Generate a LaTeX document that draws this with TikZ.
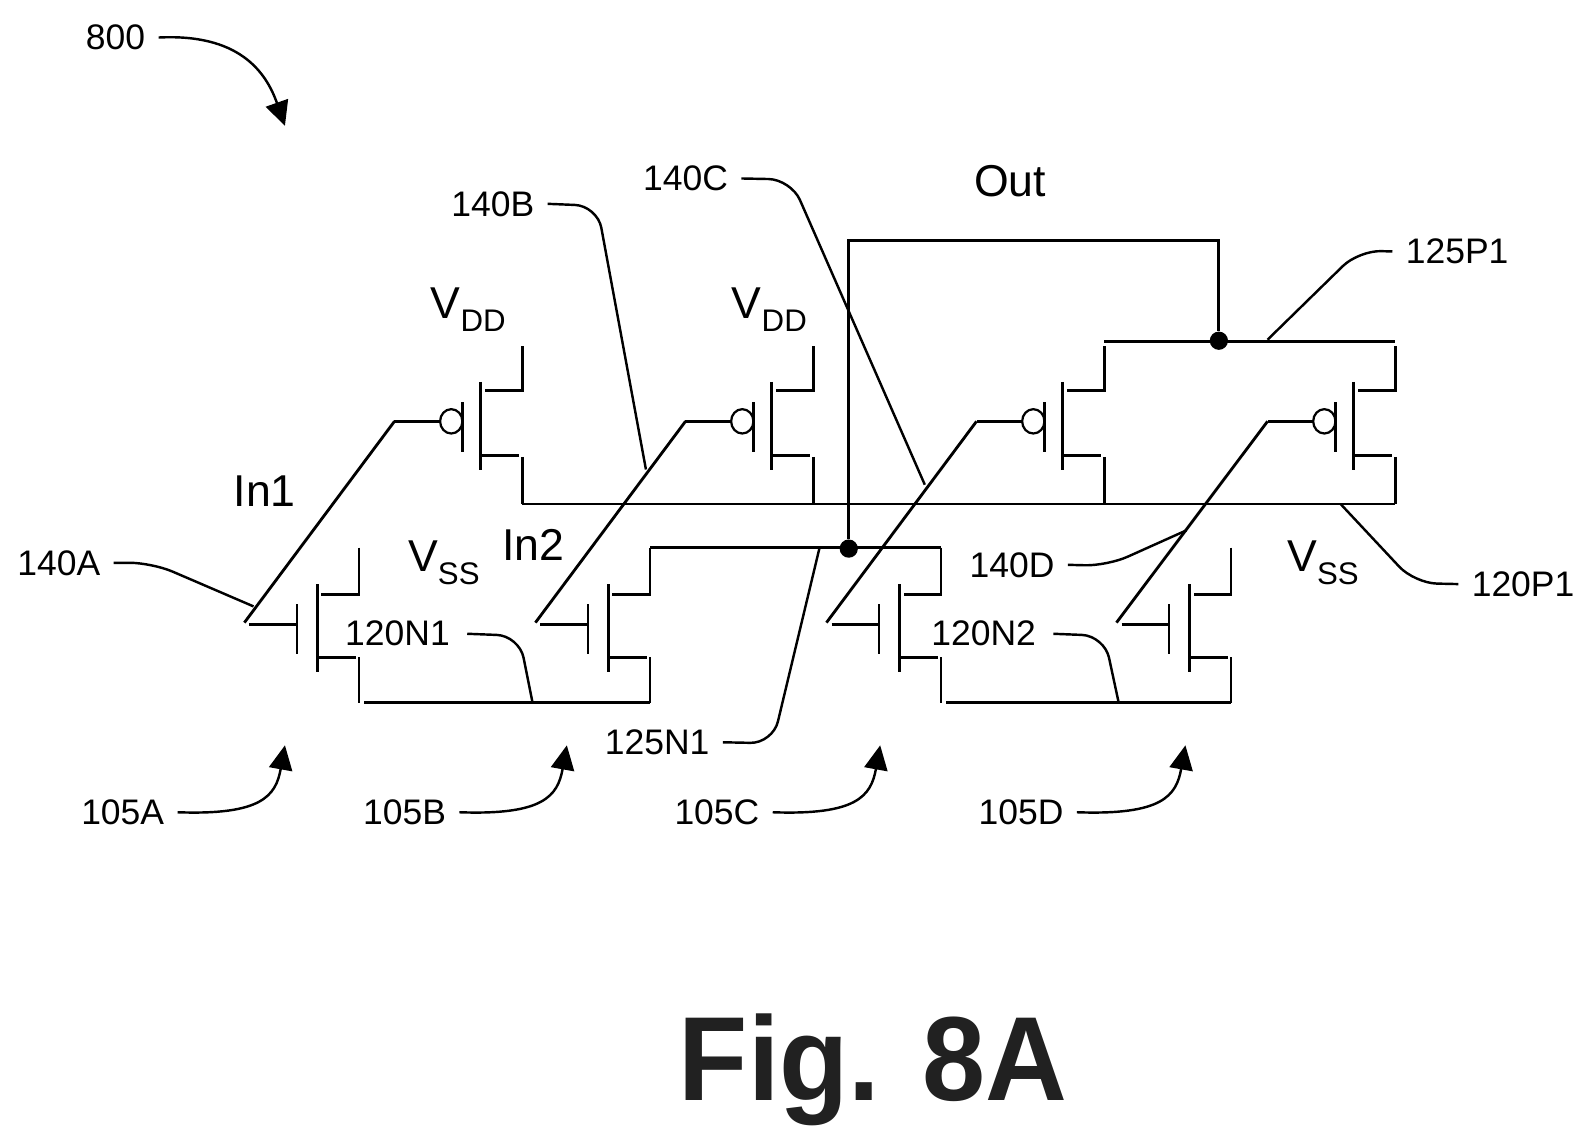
\documentclass[tikz,border=0pt]{standalone}
\usepackage{fontspec}
\setmainfont{Liberation Sans}
\usetikzlibrary{arrows.meta, positioning}

\begin{document}
\begin{tikzpicture}[
        x=1pt, y=-1pt,
        line/.style={draw, line width=2.8pt},
        thinline/.style={draw, line width=2.3pt},
        leader/.style={draw, line width=2.4pt, rounded corners=22pt},
        pointer/.style={draw, line width=2.4pt, -{Triangle[length=24pt, width=23pt]}},
        tag/.style={inner xsep=13pt, inner ysep=0pt, font=\fontsize{35}{40}\selectfont},
        signal/.style={inner sep=0pt, font=\fontsize{44}{48}\selectfont},
        dot/.style={circle, fill=black, inner sep=0pt, minimum size=18pt},
        figtitle/.style={inner sep=0pt, anchor=base, xscale=.947, transform shape, text=black!87, font=\fontsize{118}{120}\selectfont\bfseries},
        pmos/.pic={
            \coordinate (-in) at (-85,0);
            \coordinate (-high) at (41,-74);
            \coordinate (-low) at (41,81.5);
            \coordinate (-rail) at (41,-79);
            \path [line] (-85,0) -- (-40,0);
            \draw [line width=2.2pt] (-29,0) ellipse [x radius=11pt, y radius=12pt];
            \path [thinline] (-18,-19) -- (-18,30);
            \path [line] (0,-39) -- (0,48);
            \path [line] (-high) -- (41,-30) -- (4,-30);
            \path [line] (0,34) -- (38,34);
            \path [line] (41,35) -- (-low);
        },
        nmos/.pic={
            \coordinate (-in) at (-72,-2);
            \coordinate (-high) at (41,-76);
            \coordinate (-low) at (41,77);
            \path [line] (-67,0) -- (-20,0);
            \path [thinline] (-20,-20) -- (-20,29);
            \path [line] (0,-40) -- (0,47);
            \path [line] (-high) -- (41,-30) -- (4,-30);
            \path [line] (0,32) -- (38,32);
            \path [line] (41,32) -- (-low);
        }
    ]
        \useasboundingbox (0,0) rectangle (1568,1130);

        % Pull-up row
        \pic (pa) at (474,415.5) {pmos};
        \pic (pb) at (761,415.5) {pmos};
        \pic (pc) at (1048,415.5) {pmos};
        \pic (pd) at (1335,415.5) {pmos};

        % Pull-down row
        \pic (na) at (313,616) {nmos};
        \pic (nb) at (600,616) {nmos};
        \pic (nc) at (887,616) {nmos};
        \pic (nd) at (1173,616) {nmos};

        % Gate wires
        \path [line] (na-in) -- (pa-in);
        \path [line] (nb-in) -- (pb-in);
        \path [line] (nc-in) -- (pc-in);
        \path [line] (nd-in) -- (pd-in);

        % Rails
        \path [line] (pa-low) -- (pd-low);
        \path [line] (pc-rail) -- (pd-rail);
        \path [line] (nb-high) -- (nc-high);
        \path [line] ([xshift=5pt]na-low) -- (nb-low);
        \path [line] ([xshift=5pt]nc-low) -- (nd-low);

        % Output net
        \node [dot] (ndot) at (837,541) {};
        \node [dot] (pdot) at (1202,336) {};
        \coordinate (outtop) at (837,237);
        \path [line] (ndot) -- (outtop) -| (pdot);

        % Signal names
        \node [signal] (out) at (996,179) {Out};
        \node [signal] (in1) at (261,484) {In1};
        \node [signal] (in2) at (526,537) {In2};
        \node [signal] (vdda) at (462,305) {V\textsubscript{DD}};
        \node [signal] (vddb) at (759,305) {V\textsubscript{DD}};
        \node [signal] (vssa) at (438,555) {V\textsubscript{SS}};
        \node [signal] (vssb) at (1305,555) {V\textsubscript{SS}};

        % Leader lines
        \node [tag] (t140a) at (58,555) {140A};
        \node [tag] (t140b) at (486,201) {140B};
        \node [tag] (t140c) at (676,176) {140C};
        \node [tag] (t140d) at (998,557) {140D};
        \node [tag] (t125p) at (1437,248) {125P1};
        \node [tag] (t120p) at (1502,576) {120P1};
        \node [tag] (t120a) at (392,625) {120N1};
        \node [tag] (t120b) at (970,625) {120N2};
        \node [tag] (t125n) at (648,732) {125N1};
        \coordinate (e140a) at (250,598);
        \coordinate (e140b) at (637,463);
        \coordinate (e140c) at (912,478);
        \coordinate (e140d) at (1170,523);
        \coordinate (e125p) at (1250,335);
        \coordinate (e120p) at (1322,497);
        \coordinate (e120a) at (525,692);
        \coordinate (e120b) at (1103,692);
        \coordinate (e125n) at (808,541);
        \path [leader] (t140a.east) -- (150,555) -- (e140a);
        \path [leader] (t140b.east) -- (589,203) -- (e140b);
        \path [leader] (t140c.east) -- (780,177) -- (e140c);
        \path [leader] (t140d.east) -- (1092,558) -- (e140d);
        \path [leader] (t125p.west) -- (1340,247) -- (e125p);
        \path [leader] (t120p.west) -- (1395,575) -- (e120p);
        \path [leader] ([xshift=4pt]t120a.east) -- (512,627) -- (e120a);
        \path [leader] ([xshift=4pt]t120b.east) -- (1089,627) -- (e120b);
        \path [leader] (t125n.east) -- (762,733) -- (e125n);

        % Device and figure references
        \node [tag] (t800) at (114,37) {800};
        \node [tag] (t105a) at (121,801) {105A};
        \node [tag] (t105b) at (399,801) {105B};
        \node [tag] (t105c) at (707,801) {105C};
        \node [tag] (t105d) at (1007,801) {105D};
        \coordinate (a800) at (281,124);
        \coordinate (a105a) at (281,735);
        \coordinate (a105b) at (559,735);
        \coordinate (a105c) at (868,735);
        \coordinate (a105d) at (1169,735);
        \path [pointer] (t800.east) .. controls (235,33) and (262,70) .. (a800);
        \path [pointer] (t105a.east) .. controls (258,804) and (272,785) .. (a105a);
        \path [pointer] (t105b.east) .. controls (536,804) and (550,785) .. (a105b);
        \path [pointer] (t105c.east) .. controls (845,804) and (859,785) .. (a105c);
        \path [pointer] (t105d.east) .. controls (1146,804) and (1160,785) .. (a105d);

        \node [figtitle] (fig) at (861,1085) {Fig. 8A};
    \end{tikzpicture}
\end{document}
